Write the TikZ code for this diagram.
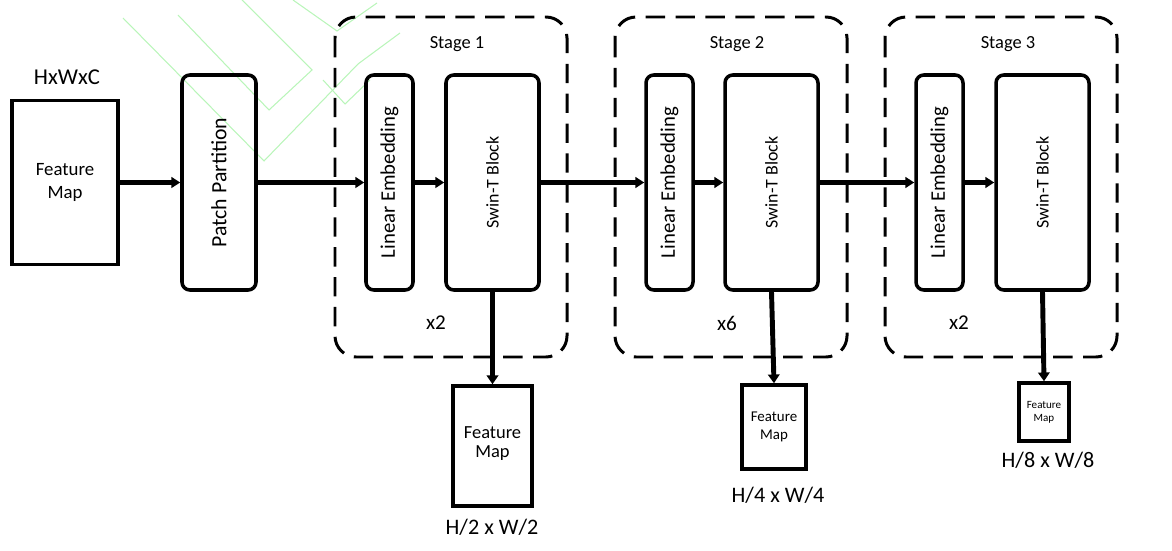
\documentclass[tikz,border=0pt]{standalone}
\usepackage{fontspec}
\usepackage{graphicx}
\setmainfont{Carlito}
\usetikzlibrary{arrows.meta}
\definecolor{wmgreen}{RGB}{185,245,185}
\begin{document}
\begin{tikzpicture}[x=0.2mm,y=-0.2mm,
  dims/.style 2 args={minimum width={#1*0.2mm},minimum height={#2*0.2mm}},
  box/.style={draw,line width=2pt,inner sep=0pt,align=center},
  rbox/.style={box,rounded corners=4.5pt},
  stagebox/.style={line width=1.7pt,dash pattern=on 11pt off 6pt,rounded corners=12pt},
  flow/.style={line width=2.3pt,-{Triangle[length=5pt,width=6pt]}},
  down/.style={line width=2.8pt,-{Triangle[length=5pt,width=6.5pt]}},
  lbl/.style={inner sep=0pt,font=\fontsize{12.6}{14}\selectfont},
  wm/.style={draw=wmgreen,line width=0.6pt}]
\useasboundingbox (0,0) rectangle (1172,551);
% faint watermark lines
\draw[wm] (123,18) -- (264,161) -- (358,64) -- (400,33);
\draw[wm] (178,15) -- (269,110) -- (312,70) -- (242,0);
\draw[wm] (293,0) -- (337,31) -- (377,3);
\draw[wm] (323,80) -- (345,104) -- (370,80);
% stage boxes
\draw[stagebox] (335,17) rectangle (567,357);
\draw[stagebox] (615,17) rectangle (847,357);
\draw[stagebox] (885,17) rectangle (1117,357);
\node[lbl,font=\fontsize{10.5}{12}\selectfont] (st1) at (457,44) {Stage 1};
\node[lbl,font=\fontsize{10.5}{12}\selectfont] (st2) at (737,44) {Stage 2};
\node[lbl,font=\fontsize{10.5}{12}\selectfont] (st3) at (1008,44) {Stage 3};
\node[lbl,font=\fontsize{12}{14}\selectfont] (r1) at (436,323) {x2};
\node[lbl,font=\fontsize{12}{14}\selectfont] (r2) at (727,323) {x6};
\node[lbl,font=\fontsize{12}{14}\selectfont] (r3) at (959,323) {x2};
% input
\node[lbl,font=\fontsize{12.9}{14}\selectfont] (hwc) at (67,77) {HxWxC};
\node[box,dims={106}{164},font=\fontsize{10.7}{13}\selectfont] (fm0) at (65,182.5) {Feature\\Map};
\node[rbox,dims={74}{215},font=\fontsize{12.4}{14}\selectfont] (pp) at (219,182.5) {\rotatebox{90}{Patch Partition}};
% stage blocks
\node[rbox,dims={47}{215},font=\fontsize{11.8}{13}\selectfont] (le1) at (389.5,182.5) {\rotatebox{90}{Linear Embedding}};
\node[rbox,dims={93}{215},font=\fontsize{10.2}{12}\selectfont] (sw1) at (492.5,182.5) {\rotatebox{90}{Swin-T Block}};
\node[rbox,dims={47}{215},font=\fontsize{11.8}{13}\selectfont] (le2) at (669.5,182.5) {\rotatebox{90}{Linear Embedding}};
\node[rbox,dims={93}{215},font=\fontsize{10.2}{12}\selectfont] (sw2) at (771.5,182.5) {\rotatebox{90}{Swin-T Block}};
\node[rbox,dims={47}{215},font=\fontsize{11.8}{13}\selectfont] (le3) at (939.5,182.5) {\rotatebox{90}{Linear Embedding}};
\node[rbox,dims={93}{215},font=\fontsize{10.2}{12}\selectfont] (sw3) at (1042.5,182.5) {\rotatebox{90}{Swin-T Block}};
% output feature maps
\node[box,dims={79}{120},font=\fontsize{10.5}{13}\selectfont] (fm1) at (492.5,446) {\raisebox{4pt}{\shortstack{Feature\\[1pt]Map}}};
\node[box,dims={64}{84},font=\fontsize{8.5}{10}\selectfont] (fm2) at (774,427) {Feature\\Map};
\node[box,dims={50}{58},font=\fontsize{6.3}{7.5}\selectfont] (fm3) at (1044,412) {Feature\\Map};
\node[lbl] (l1) at (492,527) {H/2 x W/2};
\node[lbl] (l2) at (778,495) {H/4 x W/4};
\node[lbl] (l3) at (1048,460) {H/8 x W/8};
% connectors
\draw[flow] (fm0) -- (pp);
\draw[flow] (pp) -- (le1);
\draw[flow] (le1) -- (sw1);
\draw[flow] (sw1) -- (le2);
\draw[flow] (le2) -- (sw2);
\draw[flow] (sw2) -- (le3);
\draw[flow] (le3) -- (sw3);
\draw[down] (sw1.south) -- (fm1.north);
\draw[down] (sw2.south) -- (fm2.north);
\draw[down] (sw3.south) -- (fm3.north);
\end{tikzpicture}
\end{document}
